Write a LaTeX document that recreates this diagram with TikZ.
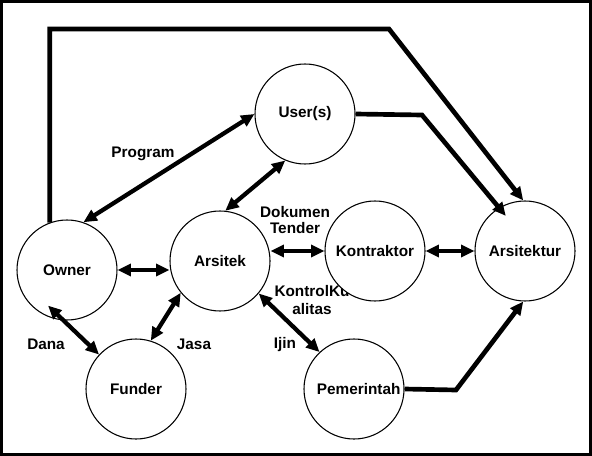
\documentclass[tikz,border=0pt]{standalone}
\usepackage{fontspec}
\setmainfont{Liberation Sans}
\usetikzlibrary{arrows.meta}

\tikzset{
  party/.style={circle, draw, line width=0.8pt, fill=white, minimum size=75pt, inner sep=0pt,
    font=\bfseries\fontsize{11.5}{12}\selectfont},
  lbl/.style={align=center, inner sep=0pt, font=\bfseries\fontsize{11.5}{12}\selectfont},
  link/.style={line width=3.2pt, {Triangle[length=10pt,width=9pt]}-{Triangle[length=10pt,width=9pt]}},
  flow/.style={line width=3.5pt, -{Triangle[length=10pt,width=9pt]}},
}

\begin{document}
\begin{tikzpicture}[x=0.75pt,y=-0.75pt]
        \useasboundingbox (0,0) rectangle (592,456);
        \draw[line width=2.4pt] (1.5,1.5) rectangle (590.5,454.5);

        % labels under the circles
        \node[lbl, font=\bfseries\fontsize{11.5}{13.5}\selectfont] (kontrol) at (312,300) {KontrolKu\\alitas};

        % parties
        \node[party] (owner) at (67,270) {Owner};
        \node[party] (user) at (305,114) {User(s)};
        \node[party] (arsitek) at (220,261) {Arsitek};
        \node[party] (kontraktor) at (375,251) {Kontraktor};
        \node[party] (arsitektur) at (525,251) {Arsitektur};
        \node[party] (funder) at (136,389) {Funder};
        \node[party] (pemerintah) at (354,389) {\hspace*{7pt}Pemerintah};

        \node[lbl] (program) at (143,154) {Program};
        \node[lbl] (dokumen) at (295,220) {Dokumen\\Tender};
        \node[lbl] (dana) at (46,344) {Dana};
        \node[lbl] (jasa) at (194,344) {Jasa};
        \node[lbl] (ijin) at (285,345) {Ijin};

        % two way links
        \draw[link] (owner.71) -- (user.180);
        \draw[link] (arsitek.84) -- (user.247);
        \draw[link] (owner.east) -- (owner.east -| arsitek.west);
        \draw[link, shorten <=-16pt] (owner.266) -- (funder.137);
        \draw[link] (arsitek.219) -- (funder.73);
        \draw[link] (arsitek.east |- kontraktor.west) -- (kontraktor.west);
        \draw[link] (kontraktor) -- (arsitektur);
        \draw[link] (arsitek.320) -- (pemerintah.133);

        % flows to the building
        \coordinate (topbend) at (389,29);
        \coordinate (userbend) at (422,115);
        \coordinate (pembend) at (456,390);
        \draw[flow] (owner.110) |- (topbend) -- (arsitektur.92);
        \draw[flow, shorten >=-8pt] (user.east) -- (userbend) -- (arsitektur.121);
        \draw[flow] (pemerintah.east) -- (pembend) -- (arsitektur.268);
        \end{tikzpicture}
\end{document}
